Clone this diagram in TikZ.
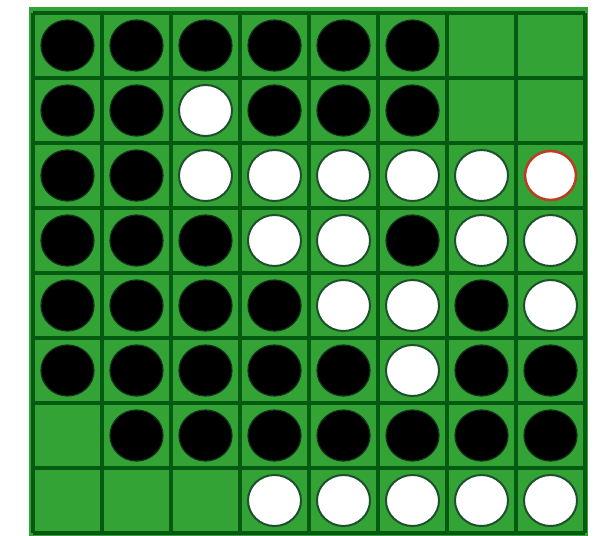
\documentclass[tikz,border=0pt]{standalone}
\usepackage{xcolor}
\definecolor{felt}{RGB}{50,163,52}
\definecolor{seam}{RGB}{5,90,18}
\definecolor{rim}{RGB}{30,80,45}
\definecolor{lastmove}{RGB}{185,62,40}

\begin{document}
\begin{tikzpicture}[x=1pt, y=-1pt,
      seamline/.style={draw=seam, line width=3.4pt},
      blackdisc/.style={fill=black, draw=rim!60!black, line width=1.2pt},
      whitedisc/.style={fill=white, draw=rim, line width=2pt},
      markdisc/.style={fill=white, draw=lastmove, line width=2.6pt}]
    \useasboundingbox (0,0) rectangle (598,536);
    % board
    \fill[felt] (29,7) rectangle (588,536);
    \foreach \i in {0,...,8} {
      \draw[seamline] (33+69*\i,13) -- (33+69*\i,533);
      \draw[seamline] (33,13+65*\i) -- (585,13+65*\i);
    }
    % black discs, row by row
    \foreach \r/\cols in {0/{0,1,2,3,4,5}, 1/{0,1,3,4,5}, 2/{0,1}, 3/{0,1,2,5},
                          4/{0,1,2,3,6}, 5/{0,1,2,3,4,6,7}, 6/{1,2,3,4,5,6,7}} {
      \foreach \c in \cols
        \path[blackdisc] (67.5+69*\c,45.5+65*\r) ellipse [x radius=26.5, y radius=25.5];
    }
    % white discs
    \foreach \r/\cols in {1/{2}, 2/{2,3,4,5,6}, 3/{3,4,6,7}, 4/{4,5,7}, 5/{5},
                          7/{3,4,5,6,7}} {
      \foreach \c in \cols
        \path[whitedisc] (67.5+69*\c,45.5+65*\r) ellipse [x radius=26.5, y radius=25.5];
    }
    % last move
    \path[markdisc] (67.5+69*7,45.5+65*2) ellipse [x radius=25.5, y radius=24.5];
\end{tikzpicture}
\end{document}
